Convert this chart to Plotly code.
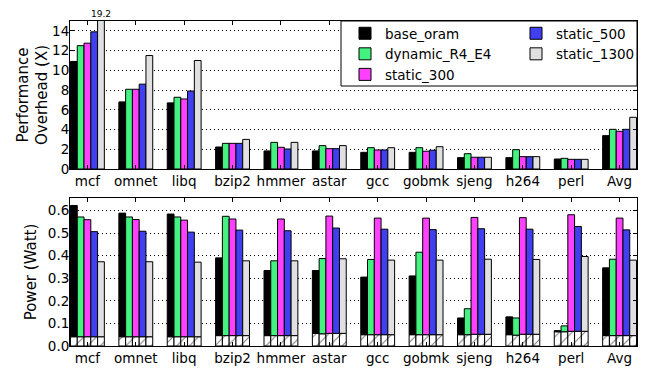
import plotly.graph_objects as go

categories = ["mcf", "omnet", "libq", "bzip2", "hmmer", "astar", "gcc", "gobmk", "sjeng", "h264", "perl", "Avg"]
series_names = ["base_oram", "dynamic_R4_E4", "static_300", "static_500", "static_1300"]
series_colors = ["#000000", "#44F27F", "#FF40FF", "#4040F0", "#E0E0E0"]
legend_columns = ["legend", "legend", "legend", "legend2", "legend2"]

# Performance overhead (X)
perf_base_oram = [10.9, 6.8, 6.7, 2.23, 1.83, 1.83, 1.69, 1.69, 1.15, 1.15, 1.01, 3.38]
perf_dynamic_R4_E4 = [12.5, 8.08, 7.27, 2.6, 2.7, 2.37, 2.16, 2.16, 1.55, 1.96, 1.08, 4.02]
perf_static_300 = [12.75, 8.08, 7.1, 2.6, 2.2, 2.06, 1.93, 1.8, 1.19, 1.25, 0.98, 3.82]
perf_static_500 = [13.9, 8.6, 7.9, 2.6, 2.03, 2.06, 1.93, 1.9, 1.19, 1.25, 0.98, 4.02]
perf_static_1300 = [19.2, 11.5, 11.0, 3.0, 2.7, 2.37, 2.16, 2.26, 1.19, 1.25, 0.98, 5.24]

# Power (Watt): total and static (hatched) part
power_base_oram = [0.622, 0.588, 0.584, 0.39, 0.334, 0.334, 0.305, 0.31, 0.124, 0.129, 0.068, 0.346]
power_dynamic_R4_E4 = [0.571, 0.571, 0.571, 0.574, 0.377, 0.387, 0.383, 0.415, 0.165, 0.124, 0.089, 0.384]
power_static_300 = [0.559, 0.56, 0.557, 0.562, 0.562, 0.575, 0.566, 0.566, 0.569, 0.568, 0.581, 0.566]
power_static_500 = [0.506, 0.508, 0.504, 0.513, 0.51, 0.522, 0.517, 0.515, 0.519, 0.517, 0.529, 0.514]
power_static_1300 = [0.373, 0.373, 0.371, 0.377, 0.377, 0.386, 0.38, 0.38, 0.384, 0.383, 0.396, 0.38]

static_base_oram = [0.041, 0.041, 0.041, 0.046, 0.046, 0.056, 0.05, 0.05, 0.05, 0.05, 0.063, 0.046]
static_dynamic_R4_E4 = [0.041, 0.041, 0.041, 0.046, 0.046, 0.054, 0.05, 0.05, 0.05, 0.048, 0.063, 0.046]
static_static_300 = [0.041, 0.041, 0.041, 0.046, 0.046, 0.056, 0.05, 0.05, 0.052, 0.052, 0.065, 0.046]
static_static_500 = [0.041, 0.041, 0.041, 0.046, 0.046, 0.056, 0.05, 0.05, 0.052, 0.052, 0.065, 0.046]
static_static_1300 = [0.041, 0.041, 0.041, 0.046, 0.046, 0.056, 0.05, 0.05, 0.052, 0.052, 0.065, 0.046]

perf = [perf_base_oram, perf_dynamic_R4_E4, perf_static_300, perf_static_500, perf_static_1300]
power = [power_base_oram, power_dynamic_R4_E4, power_static_300, power_static_500, power_static_1300]
static = [static_base_oram, static_dynamic_R4_E4, static_static_300, static_static_500, static_static_1300]

FONT = "DejaVu Sans"
xpos = list(range(len(categories)))

fig = go.Figure()
for i, name in enumerate(series_names):
    fig.add_trace(go.Bar(
        x=xpos, y=perf[i], name=name, xaxis="x", yaxis="y",
        offsetgroup=str(i), legend=legend_columns[i],
        marker=dict(color=series_colors[i], line=dict(color="#000000", width=1)),
    ))
for i, name in enumerate(series_names):
    fig.add_trace(go.Bar(
        x=xpos, y=static[i], name=name + " static", xaxis="x2", yaxis="y2",
        offsetgroup=str(i), showlegend=False,
        marker=dict(color="white", line=dict(color="#000000", width=1),
                    pattern=dict(shape="/", fgcolor="#000000", bgcolor="white",
                                 size=9, solidity=0.12)),
    ))
    fig.add_trace(go.Bar(
        x=xpos, y=[t - s for t, s in zip(power[i], static[i])], base=static[i],
        name=name, xaxis="x2", yaxis="y2", offsetgroup=str(i), showlegend=False,
        marker=dict(color=series_colors[i], line=dict(color="#000000", width=1)),
    ))

W, H = 651, 370
xdom = [70 / W, 637 / W]
top_dom = [1 - 169 / H, 1 - 21 / H]
bot_dom = [1 - 346 / H, 1 - 198 / H]

xaxis_common = dict(
    range=[-0.36, 11.36], tickvals=xpos, ticktext=categories,
    ticks="inside", ticklen=4, tickcolor="#000000", mirror="ticks",
    showline=True, linecolor="#000000", linewidth=1, showgrid=False,
    zeroline=False, tickfont=dict(family=FONT, size=13.5, color="#000000"),
    automargin=False, domain=xdom,
)
yaxis_common = dict(
    ticks="inside", ticklen=4, tickcolor="#000000", mirror="ticks",
    showline=True, linecolor="#000000", linewidth=1,
    showgrid=True, gridcolor="#000000", griddash="1px,3px", gridwidth=1,
    zeroline=False, tickfont=dict(family=FONT, size=13.5, color="#000000"),
    automargin=False, ticklabelstandoff=-3,
)

legend_common = dict(
    orientation="v", xanchor="left", yanchor="top",
    bgcolor="rgba(0,0,0,0)", borderwidth=0,
    font=dict(family=FONT, size=13.5), traceorder="normal", tracegroupgap=0,
)

fig.update_layout(
    width=W, height=H, margin=dict(l=0, r=0, t=0, b=0),
    paper_bgcolor="white", plot_bgcolor="white",
    barmode="group", bargap=0.3, bargroupgap=0,
    font=dict(family=FONT, size=13.5, color="#000000"),
    xaxis=dict(xaxis_common, anchor="y"),
    xaxis2=dict(xaxis_common, anchor="y2"),
    yaxis=dict(yaxis_common, range=[0, 15], tickvals=list(range(0, 15, 2)),
               domain=top_dom, anchor="x",
               title=dict(text="Performance<br>Overhead (X)", standoff=0,
                          font=dict(family=FONT, size=15))),
    yaxis2=dict(yaxis_common, range=[0, 0.655], tickvals=[0, 0.1, 0.2, 0.3, 0.4, 0.5, 0.6],
                ticktext=["0.0", "0.1", "0.2", "0.3", "0.4", "0.5", "0.6"],
                domain=bot_dom, anchor="x2",
                title=dict(text="Power (Watt)", standoff=7,
                           font=dict(family=FONT, size=15))),
    legend=dict(legend_common, x=345 / W, y=1 - 18 / H),
    legend2=dict(legend_common, x=516 / W, y=1 - 18 / H),
    shapes=[dict(type="rect", xref="paper", yref="paper",
                 x0=341 / W, x1=637 / W, y0=1 - 86 / H, y1=1 - 21 / H,
                 fillcolor="white", line=dict(color="#000000", width=1), layer="above")],
)

fig.add_annotation(
    x=0 + 0.28, y=1 - 7 / H, xref="x", yref="paper",
    text=f"{perf_static_1300[0]}", showarrow=False,
    font=dict(family=FONT, size=9, color="#000000"),
)

fig.write_html("out.html")
